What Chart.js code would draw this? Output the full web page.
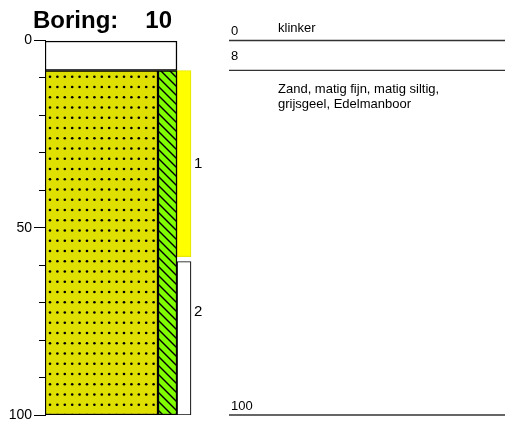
<!DOCTYPE html>
<html><head><meta charset="utf-8">
<script src="https://cdn.jsdelivr.net/npm/chart.js@4.4.1/dist/chart.umd.min.js"></script>
<style>html,body{margin:0;padding:0;background:#fff}#wrap{width:505px;height:424px}</style>
</head><body><div id="wrap"><canvas id="c" width="505" height="424"></canvas></div>
<script>
// ---- data ----
const boringName = '10';
const layerTops = [0, 8];
const layerBottoms = [8, 100];
const layerDescriptions = [['klinker'], ['Zand, matig fijn, matig siltig,', 'grijsgeel, Edelmanboor']];
const sampleNames = ['1', '2'];
const sampleTops = [8, 59];
const sampleBottoms = [57.7, 100];
const sampleLabelDepths = [33, 72.5];
const depthTickLabels = [0, 50, 100];

// ---- styles / layout (px units along the hidden x scale) ----
const FONT = "'Liberation Sans', Arial, sans-serif";
const COL = { left: 0, split: 113, right: 132, sampleRight: 146 };
const TEXT_X = { lineStart: 229, depth: 231, desc: 278, end: 505 };

function makeDots() {
  const c = document.createElement('canvas'); c.width = 37; c.height = 41;
  const g = c.getContext('2d');
  g.fillStyle = '#E0E000'; g.fillRect(0, 0, 37, 41);
  g.fillStyle = '#000';
  for (let i = 0; i < 5; i++) for (let j = 0; j < 4; j++) {
    g.beginPath(); g.arc(5.6 + 7.4 * i, 5 + 10.25 * j, 1.3, 0, Math.PI * 2); g.fill();
  }
  return g.createPattern(c, 'repeat');
}
function makeHatch() {
  const s = 9;
  const c = document.createElement('canvas'); c.width = s; c.height = s;
  const g = c.getContext('2d');
  g.fillStyle = '#80FF00'; g.fillRect(0, 0, s, s);
  g.strokeStyle = '#000'; g.lineWidth = 1.4;
  for (const o of [-s, 0, s]) { g.beginPath(); g.moveTo(o - 1, -1); g.lineTo(o + s + 1, s + 1); g.stroke(); }
  return g.createPattern(c, 'repeat');
}

const sampleColors = ['#FFFF00', '#FFFFFF'];
const sampleBorders = ['#E8E800', '#111111'];

const datasets = [
  { label: 'klinker', data: [{ x: (COL.left + COL.right) / 2, y: [layerTops[0], layerBottoms[0]] }],
    barThickness: COL.right - COL.left, backgroundColor: '#FFFFFF', borderColor: '#000', borderWidth: 1.5, borderSkipped: false },
  { label: 'zand', data: [{ x: (COL.left + COL.split) / 2, y: [layerTops[1], layerBottoms[1]] }],
    barThickness: COL.split - COL.left, backgroundColor: makeDots(), borderColor: '#000', borderWidth: 1.5, borderSkipped: false },
  { label: 'silt', data: [{ x: (COL.split + COL.right) / 2, y: [layerTops[1], layerBottoms[1]] }],
    barThickness: COL.right - COL.split, backgroundColor: makeHatch(), borderColor: '#000', borderWidth: 1.5, borderSkipped: false },
  { label: 'monsters', data: sampleTops.map((t, i) => ({ x: (COL.right + COL.sampleRight) / 2, y: [t, sampleBottoms[i]] })),
    barThickness: COL.sampleRight - COL.right, backgroundColor: sampleColors, borderColor: sampleBorders, borderWidth: 1.2, borderSkipped: false }
];

const textPlugin = {
  id: 'boringText',
  afterDraw(chart) {
    const ctx = chart.ctx, y = chart.scales.y;
    ctx.save();
    ctx.fillStyle = '#000';
    // title
    ctx.font = 'bold 24px ' + FONT; ctx.textBaseline = 'alphabetic';
    ctx.textAlign = 'left'; ctx.fillText('Boring:', 33, 28);
    ctx.textAlign = 'right'; ctx.fillText(boringName, 172, 28);
    // sample labels
    ctx.font = '15px ' + FONT; ctx.textAlign = 'left'; ctx.textBaseline = 'middle';
    sampleNames.forEach((n, i) => ctx.fillText(n, 194, y.getPixelForValue(sampleLabelDepths[i])));
    // right panel: boundaries
    const bounds = [...new Set([...layerTops, ...layerBottoms])].sort((a, b) => a - b);
    ctx.strokeStyle = '#333'; ctx.lineWidth = 1.3;
    ctx.font = '13px ' + FONT; ctx.textBaseline = 'alphabetic';
    bounds.forEach((d, i) => {
      const py = y.getPixelForValue(d);
      ctx.beginPath(); ctx.moveTo(TEXT_X.lineStart, py); ctx.lineTo(TEXT_X.end, py); ctx.stroke();
      let base = py - 5.5;
      if (i > 0) {
        const prev = y.getPixelForValue(bounds[i - 1]);
        if (py - prev < 40) base = (py + prev) / 2 + 4.5;
      }
      ctx.fillText(String(d), TEXT_X.depth, base);
    });
    // descriptions
    layerDescriptions.forEach((lines, i) => {
      const t = y.getPixelForValue(layerTops[i]), b = y.getPixelForValue(layerBottoms[i]);
      let base = (b - t < 40) ? t - 9 : t + 22.5;
      lines.forEach((ln, k) => ctx.fillText(ln, TEXT_X.desc, base + k * 15.5));
    });
    ctx.restore();
  }
};

new Chart(document.getElementById('c'), {
  type: 'bar',
  data: { datasets },
  options: {
    responsive: false, animation: false, devicePixelRatio: 1,
    layout: { padding: { top: 40.5, bottom: 7, left: 0, right: 0 } },
    datasets: { bar: { grouped: false } },
    plugins: { legend: { display: false }, tooltip: { enabled: false }, title: { display: false } },
    scales: {
      x: { type: 'linear', min: 0, max: 460, display: false, offset: false, grid: { offset: false } },
      y: {
        type: 'linear', reverse: true, min: 0, max: 100,
        afterFit: s => { s.width = 45; },
        border: { display: true, color: '#000', width: 1 },
        grid: {
          drawOnChartArea: false, tickLength: 11, tickColor: '#000', tickWidth: 1,
          tickBorderDash: c => (c.tick && depthTickLabels.includes(c.tick.value)) ? [] : [0, 5, 30]
        },
        ticks: {
          stepSize: 10, padding: 2, color: '#000',
          font: { family: FONT, size: 14, lineHeight: 1 },
          callback: v => depthTickLabels.includes(v) ? String(v) : ''
        }
      }
    }
  },
  plugins: [textPlugin]
});
</script></body></html>
